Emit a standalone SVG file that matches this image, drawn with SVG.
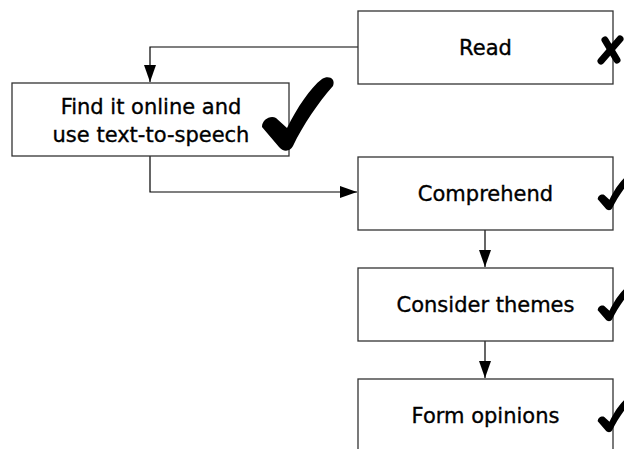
<svg xmlns="http://www.w3.org/2000/svg" width="624" height="449" viewBox="0 0 624 449">
<style>
.box{fill:#fff;stroke:#333;stroke-width:1.3}
.lbl{font-family:"DejaVu Sans",sans-serif;font-size:21px;fill:#000;stroke:#000;stroke-width:0.35;text-anchor:middle}
.con{fill:none;stroke:#000;stroke-width:1.2}
.mark{fill:#000}
</style>
<defs>
<marker id="ah" viewBox="0 0 17 12" refX="17" refY="6" markerWidth="17" markerHeight="12" markerUnits="userSpaceOnUse" orient="auto">
<path d="M0,0 L17,6 L0,12 Z" fill="#000"/>
</marker>
<path id="tick" d="M -24,-23 C -24,-30 -16,-35 -10,-32 L 1,-22 C 11,-42 24,-62 36,-71 C 42,-75 50,-72 47,-64 C 32,-47 17,-25 7,-4 C 4,2 -3,2 -7,-3 Z"/>
</defs>
<g id="connectors">
<path class="con" d="M358,47 H150 V82" marker-end="url(#ah)"/>
<path class="con" d="M150,156 V192 H357" marker-end="url(#ah)"/>
<path class="con" d="M485,230 V267" marker-end="url(#ah)"/>
<path class="con" d="M485,341 V378" marker-end="url(#ah)"/>
</g>
<g id="read">
<rect class="box" x="358" y="11" width="255" height="73"/>
<text class="lbl" x="485.5" y="55">Read</text>
</g>
<g id="find">
<rect class="box" x="12" y="83" width="277" height="73"/>
<text class="lbl" x="151" y="114">Find it online and</text>
<text class="lbl" x="151" y="142">use text-to-speech</text>
</g>
<g id="comprehend">
<rect class="box" x="358" y="157" width="255" height="73"/>
<text class="lbl" x="485.5" y="201">Comprehend</text>
</g>
<g id="consider">
<rect class="box" x="358" y="268" width="255" height="73"/>
<text class="lbl" x="485.5" y="312">Consider themes</text>
</g>
<g id="form">
<rect class="box" x="358" y="379" width="255" height="80"/>
<text class="lbl" x="485.5" y="423">Form opinions</text>
</g>
<g id="marks">
<g stroke="#000" stroke-width="7" stroke-linecap="round">
<line x1="601" y1="61" x2="620" y2="39"/>
<line x1="605" y1="40" x2="617" y2="60"/>
</g>
<use href="#tick" class="mark" transform="translate(286,150)"/>
<use href="#tick" class="mark" transform="translate(609,210) scale(0.47)"/>
<use href="#tick" class="mark" transform="translate(609,321) scale(0.47)"/>
<use href="#tick" class="mark" transform="translate(609,432) scale(0.47)"/>
</g>
</svg>
